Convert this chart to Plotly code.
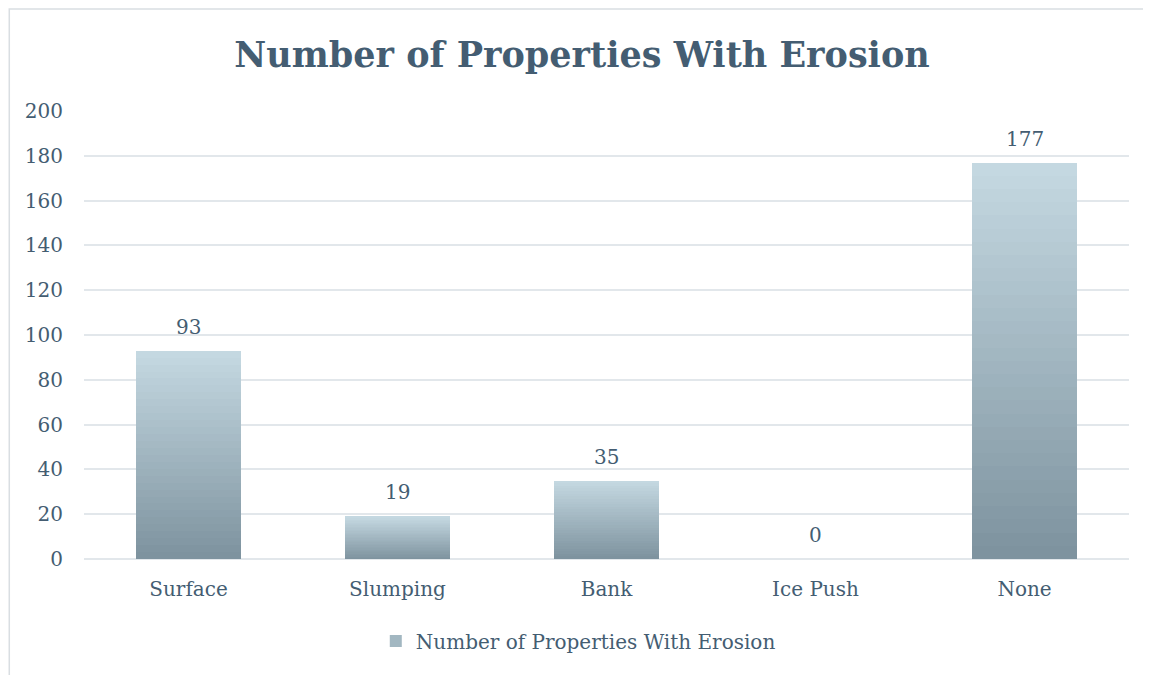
import plotly.graph_objects as go

categories = ["Surface", "Slumping", "Bank", "Ice Push", "None"]
values = [93, 19, 35, 0, 177]
series_name = "Number of Properties With Erosion"
title_text = "Number of Properties With Erosion"
y_ticks = [0, 20, 40, 60, 80, 100, 120, 140, 160, 180, 200]

TEXT = "#445D72"
FONT = "DejaVu Serif"
TOP = (0xC4, 0xD8, 0xE1)
BOT = (0x7E, 0x93, 0x9F)
N = 30

W, H = 1143, 667

def mix(t):
    r = [round(BOT[i] + (TOP[i] - BOT[i]) * t) for i in range(3)]
    return "rgb(%d,%d,%d)" % tuple(r)

fig = go.Figure()
for k in range(N):
    t = k / (N - 1)
    fig.add_trace(go.Bar(
        x=categories,
        y=[v / N for v in values],
        marker=dict(color=mix(t), line=dict(width=0)),
        name=series_name,
        showlegend=(k == N // 2),
        legendgroup="g",
        hoverinfo="skip" if k else "x+y",
    ))

for c, v in zip(categories, values):
    fig.add_annotation(x=c, y=v, yshift=24, text=str(v), showarrow=False,
                       font=dict(family=FONT, size=20, color=TEXT))

fig.add_shape(type="rect", xref="paper", yref="paper",
              x0=-0.0715, x1=1.3, y0=-0.5, y1=1.2275,
              line=dict(color="#D9DEE2", width=1.5), fillcolor="rgba(0,0,0,0)", layer="below")

fig.update_layout(
    width=W, height=H,
    paper_bgcolor="white", plot_bgcolor="white",
    margin=dict(l=76, r=22, t=103, b=116),
    barmode="stack", bargap=0.5,
    title=dict(text="<b>%s</b>" % title_text, x=574 / W, xanchor="center",
               y=1 - 47 / H, yanchor="middle",
               font=dict(family=FONT, size=35, color=TEXT)),
    font=dict(family=FONT, color=TEXT),
    yaxis=dict(range=[0, 200], tickvals=y_ticks, showgrid=True,
               gridcolor="#E2E7EB", gridwidth=1.5, zeroline=True,
               zerolinecolor="#E2E7EB", zerolinewidth=1.5,
               tickfont=dict(family=FONT, size=20, color=TEXT),
               ticklabelstandoff=20, showline=False),
    xaxis=dict(tickfont=dict(family=FONT, size=20, color=TEXT),
               ticklabelstandoff=16, showline=False, showgrid=False),
    legend=dict(orientation="h", x=0.473, xanchor="center", y=-0.183, yanchor="middle",
                font=dict(family=FONT, size=20, color=TEXT), itemsizing="constant",
                itemwidth=30),
)

fig.write_html("out.html")
